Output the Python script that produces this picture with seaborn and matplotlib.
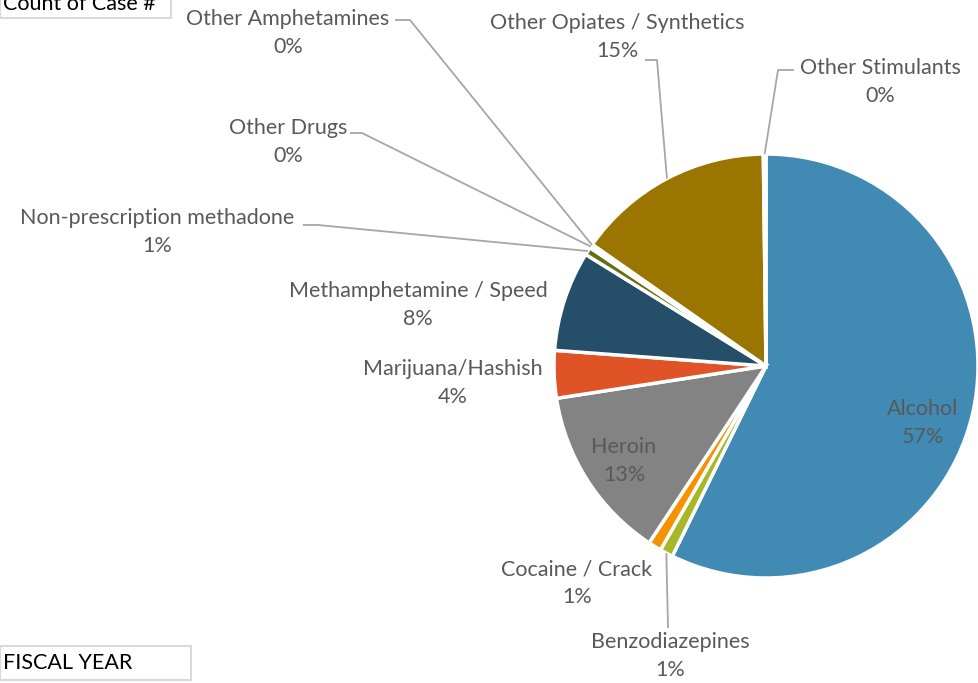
import numpy as np
import seaborn as sns
import matplotlib.pyplot as plt
from matplotlib.patches import Rectangle

labels = ["Alcohol", "Benzodiazepines", "Cocaine / Crack", "Heroin",
          "Marijuana/Hashish", "Methamphetamine / Speed",
          "Non-prescription methadone", "Other Drugs", "Other Amphetamines",
          "Other Opiates / Synthetics", "Other Stimulants"]
counts = [570, 10, 10, 132, 36, 76, 6, 2, 1, 150, 2]
pct_labels = ["57%", "1%", "1%", "13%", "4%", "8%", "1%", "0%", "0%", "15%", "0%"]
colors = ["#418AB3", "#A6B727", "#F69200", "#838383", "#DF5327", "#254E68",
          "#637014", "#E8A15A", "#9FB8C8", "#9A7600", "#A5522D"]

sns.set_style("white")
plt.rcParams['font.family'] = ['Lato', 'DejaVu Sans']

W, H = 979, 683
CX, CY, R = 766, 366, 212
fig = plt.figure(figsize=(W / 100, H / 100), dpi=100)
ax = fig.add_axes([(CX - R) / W, (H - CY - R) / H, 2 * R / W, 2 * R / H])

wedges, _ = ax.pie(counts, colors=colors, startangle=90, counterclock=False,
                   wedgeprops=dict(edgecolor="white", linewidth=2.5))
ax.set_xlim(-1, 1)
ax.set_ylim(-1, 1)
ax.set_aspect("equal")
ax.axis("off")


def d(px, py):
    # figure pixel position -> pie data coords
    return (px - CX) / R, (CY - py) / R


TXT = "#595959"
FS = 15.5

# label text positions in pixels (centre of two-line block) and leader elbows
layout = {
    "Alcohol": dict(pos=(923, 423)),
    "Heroin": dict(pos=(624, 461)),
    "Benzodiazepines": dict(pos=(670, 656), elbow=(668, 628)),
    "Cocaine / Crack": dict(pos=(577, 583)),
    "Marijuana/Hashish": dict(pos=(453, 383)),
    "Methamphetamine / Speed": dict(pos=(418, 305)),
    "Non-prescription methadone": dict(pos=(157, 232), elbow=(318, 225), start=(303, 225)),
    "Other Drugs": dict(pos=(288, 142), elbow=(362, 133), start=(350, 133)),
    "Other Amphetamines": dict(pos=(288, 33), elbow=(410, 20), start=(395, 20)),
    "Other Opiates / Synthetics": dict(pos=(617, 37), elbow=(657, 60), start=(645, 60)),
    "Other Stimulants": dict(pos=(880, 82), elbow=(778, 70), start=(794, 70)),
}

for w, lab, pct in zip(wedges, labels, pct_labels):
    cfg = layout[lab]
    x, y = d(*cfg["pos"])
    ax.text(x, y, f"{lab}\n{pct}", ha="center", va="center", fontsize=FS,
            color=TXT, linespacing=1.5, clip_on=False)
    if "elbow" in cfg:
        mid = np.deg2rad((w.theta1 + w.theta2) / 2)
        ex, ey = np.cos(mid), np.sin(mid)
        bx, by = d(*cfg["elbow"])
        pts = [(ex, ey), (bx, by)]
        if "start" in cfg:
            pts.append(d(*cfg["start"]))
        xs, ys = zip(*pts)
        ax.plot(xs, ys, color="#A6A6A6", lw=1.3, clip_on=False,
                solid_capstyle="butt")

# filter boxes
def box(x0, y0, x1, y1, text, ty):
    fig.patches.append(Rectangle((x0 / W, 1 - y1 / H), (x1 - x0) / W, (y1 - y0) / H,
                                 transform=fig.transFigure, facecolor="white",
                                 edgecolor="#D9D9D9", lw=1.5))
    fig.text(3 / W, 1 - ty / H, text, ha="left", va="center", fontsize=FS,
             color="black")

box(0, -20, 171, 18, "Count of Case #", 4)
box(0, 646, 191, 680, "FISCAL YEAR", 663)

fig.savefig("out.png", dpi=100)
